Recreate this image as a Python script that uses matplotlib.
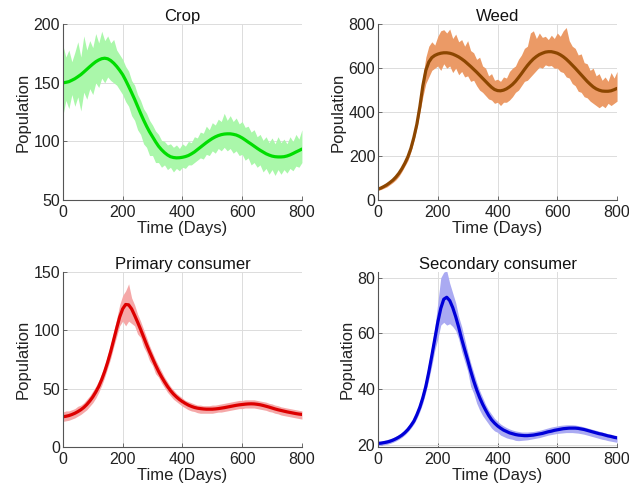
import numpy as np
import matplotlib
matplotlib.use("Agg")
import matplotlib.pyplot as plt

plt.rcParams['font.family'] = ['Liberation Sans', 'DejaVu Sans']

# time grid (days), shared by mean curves and bands
t = np.arange(0, 801, 10)

# ---- Crop ----
crop_mean = [150, 150.4, 151, 152.2, 153.5, 155.2, 157, 159.2, 161.5, 163.8, 166, 168, 169.5,
             170.6, 171, 170.5, 169, 166.8, 164, 160.7, 157, 152.2, 147, 141.6, 136, 130, 124,
             118.3, 113, 108.2, 104, 99.8, 96, 93, 90.5, 88.5, 87, 86.3, 86, 86.1, 86.5, 87.1,
             88, 89.4, 91, 93, 95, 97, 99, 100.8, 102.5, 103.9, 105, 105.8, 106.3, 106.5, 106.5,
             106.1, 105.5, 104.4, 103, 101.3, 99.5, 97.8, 96, 94.2, 92.5, 91, 89.5, 88.4, 87.5,
             87, 86.8, 86.8, 87, 87.6, 88.5, 89.7, 91, 92.2, 93.5]
crop_upper = [182, 172, 178, 168, 176, 185, 172, 190, 178, 186, 180, 192, 184, 194, 186, 190,
              184, 187, 178, 174, 170, 164, 160, 152, 148, 140, 135, 128, 124, 118, 114, 109,
              106, 101, 100, 97, 98, 95, 97, 94, 98, 96, 100, 99, 104, 103, 108, 107, 113, 110,
              116, 114, 119, 117, 124, 118, 122, 117, 120, 115, 117, 112, 113, 108, 110, 104,
              106, 101, 104, 99, 103, 98, 104, 99, 102, 98, 104, 100, 106, 102, 110]
crop_lower = [122, 135, 128, 140, 130, 138, 126, 142, 136, 145, 140, 150, 146, 154, 150, 155,
              152, 150, 148, 144, 140, 134, 130, 122, 118, 110, 106, 98, 95, 88, 88, 82, 82,
              78, 80, 76, 78, 74, 77, 75, 78, 77, 80, 80, 82, 84, 86, 85, 89, 88, 92, 90, 94,
              92, 95, 92, 94, 90, 92, 88, 89, 84, 86, 80, 82, 78, 80, 74, 77, 72, 76, 71, 76,
              72, 76, 73, 77, 75, 79, 78, 82]

# ---- Weed ----
weed_mean = [50, 55, 62, 70, 80, 91, 105, 122, 143, 168, 197, 235, 285, 345, 425, 520, 590,
             628, 648, 658, 664, 668, 670, 670, 668, 664, 658, 651, 642, 632, 620, 608, 595,
             582, 568, 554, 540, 526, 513, 503, 498, 497, 500, 506, 515, 526, 540, 557, 575,
             594, 612, 628, 642, 653, 662, 668, 673, 675, 675, 672, 668, 661, 652, 641, 628,
             614, 600, 585, 570, 555, 540, 527, 515, 506, 500, 496, 495, 495, 497, 502, 508]
weed_upper = [58, 62, 70, 78, 88, 100, 113, 130, 155, 182, 212, 255, 310, 375, 460, 560, 650,
              700, 720, 705, 745, 770, 775, 760, 778, 735, 755, 720, 730, 700, 725, 680, 670,
              640, 650, 610, 600, 565, 575, 545, 550, 540, 560, 555, 585, 600, 610, 640, 660,
              690, 700, 760, 770, 735, 760, 740, 745, 730, 750, 735, 760, 745, 770, 785, 725,
              700, 690, 660, 665, 625, 620, 590, 600, 565, 575, 545, 560, 540, 580, 555, 585]
weed_lower = [44, 48, 54, 60, 70, 80, 92, 108, 130, 155, 180, 220, 270, 330, 400, 470, 530,
              560, 590, 600, 610, 590, 620, 600, 610, 580, 600, 570, 585, 560, 565, 540, 545,
              520, 500, 490, 475, 460, 455, 440, 445, 430, 445, 445, 455, 470, 490, 500, 520,
              540, 545, 560, 575, 590, 605, 600, 615, 610, 612, 600, 600, 585, 580, 560, 555,
              530, 520, 495, 490, 470, 465, 450, 440, 430, 420, 430, 420, 440, 430, 440, 450]

# ---- Primary consumer ----
prim_mean = [26, 26.4, 27, 27.9, 29, 30.4, 32, 34, 36.5, 39.5, 43, 47.2, 52, 58, 65, 73, 82,
             92, 102, 111.5, 118.5, 122.3, 122, 118.5, 113, 107.2, 101, 94.5, 88, 81.8, 76,
             70.3, 65, 60.3, 56, 52, 48.5, 45.5, 43, 40.8, 39, 37.4, 36, 34.9, 34, 33.4, 33,
             32.7, 32.5, 32.5, 32.5, 32.7, 33, 33.4, 33.8, 34.3, 34.8, 35.3, 35.8, 36.2, 36.5,
             36.8, 37, 37.1, 37, 36.7, 36.3, 35.7, 35, 34.3, 33.5, 32.7, 32, 31.4, 30.8, 30.2,
             29.7, 29.2, 28.7, 28.3, 28]
prim_upper = [30, 31, 31, 32, 33, 35, 36, 38, 41, 44, 48, 52, 57, 63, 70, 79, 88, 99, 110,
              122, 130, 134, 140, 128, 122, 114, 108, 101, 94, 87, 81, 75, 70, 65, 60, 56, 52,
              49, 46, 44, 42, 40, 39, 38, 37, 36, 36, 35.5, 35.5, 35.5, 36, 36, 36.5, 37, 37.5,
              38, 38.5, 39, 39.5, 40, 40, 40.5, 40.5, 40.5, 40.5, 40, 39.5, 39, 38.5, 37.5, 37,
              36, 35.5, 34.5, 34, 33.5, 33, 32.5, 32, 31.5, 31]
prim_lower = [22, 22.5, 23, 24, 25, 26.5, 28, 30, 32, 35, 38, 42, 47, 53, 60, 68, 76, 86, 95,
              104, 108, 104, 108, 106, 104, 97, 94, 86, 81, 74, 70, 63, 60, 55, 51, 47, 44, 41,
              39, 37, 35, 33.5, 32, 31, 30.5, 29.5, 29, 29, 29, 29, 29, 29.5, 30, 30, 30.5, 31,
              31.5, 32, 32.5, 33, 33, 33.5, 33.5, 33.5, 33.5, 33, 32.5, 32, 31.5, 30.5, 30, 29,
              28.5, 27.5, 27, 26.5, 26, 25.5, 25, 24.5, 24]

# ---- Secondary consumer ----
sec_mean = [20.5, 20.6, 20.8, 21, 21.3, 21.7, 22.2, 22.8, 23.5, 24.4, 25.5, 26.9, 28.5, 30.8,
            33.5, 36.9, 41, 46.2, 52, 58, 64, 69, 72.3, 73, 71.8, 69.3, 66, 62.2, 58, 54.2,
            50.5, 46.6, 43, 39.8, 37, 34.6, 32.5, 30.6, 29, 27.8, 26.8, 26, 25.3, 24.8, 24.3,
            24, 23.7, 23.5, 23.4, 23.3, 23.3, 23.4, 23.5, 23.7, 23.9, 24.1, 24.4, 24.7, 24.9,
            25.2, 25.4, 25.6, 25.8, 25.9, 26, 26, 26, 25.9, 25.7, 25.5, 25.2, 24.9, 24.6, 24.3,
            24, 23.8, 23.5, 23.2, 23, 22.7, 22.5]
sec_upper = [21.3, 21.4, 21.6, 21.9, 22.2, 22.6, 23.1, 23.7, 24.5, 25.5, 26.7, 28.2, 30, 32.5,
             35.5, 39.5, 44, 49.5, 55.5, 62, 71, 80, 82, 82.5, 78, 74.5, 71, 66, 62.5, 58, 53.5,
             49.5, 46, 42.5, 39.5, 37, 34.5, 32.5, 31, 29.5, 28.5, 27.5, 26.8, 26.2, 25.7, 25.3,
             25, 24.8, 24.6, 24.6, 24.6, 24.7, 24.8, 25, 25.2, 25.5, 25.8, 26.1, 26.4, 26.6,
             26.8, 27, 27.1, 27.2, 27.2, 27.2, 27.1, 26.9, 26.7, 26.4, 26.1, 25.8, 25.5, 25.2,
             24.9, 24.6, 24.3, 24, 23.8, 23.5, 23.3]
sec_lower = [19.7, 19.8, 20, 20.2, 20.5, 20.9, 21.4, 22, 22.7, 23.6, 24.7, 26, 27.5, 29.5, 32,
             35, 39, 43.5, 48.5, 54, 58, 63, 64, 63, 63.5, 62.5, 61, 58, 53.5, 50, 46.5, 41,
             38.5, 35, 32.5, 30.5, 29, 27.5, 26, 25, 24.5, 23.5, 23, 22.5, 22.2, 22, 21.6, 21.5,
             21.6, 21.7, 21.8, 22, 22.2, 22.4, 22.6, 22.9, 23.2, 23.5, 23.7, 23.9, 24.1, 24.2,
             24.3, 24.4, 24.4, 24.4, 24.3, 24.2, 24, 23.8, 23.5, 23.2, 22.9, 22.6, 22.3, 22,
             21.8, 21.5, 21.3, 21.1, 20.9]

panels = [
    ("Crop", crop_mean, crop_upper, crop_lower, "#00dd00", "#aaf7aa", (50, 200), [50, 100, 150, 200]),
    ("Weed", weed_mean, weed_upper, weed_lower, "#8c4600", "#eb9a66", (0, 800), [0, 200, 400, 600, 800]),
    ("Primary consumer", prim_mean, prim_upper, prim_lower, "#dd0000", "#f5a8a8", (0, 150), [0, 50, 100, 150]),
    ("Secondary consumer", sec_mean, sec_upper, sec_lower, "#0000d8", "#aaaaf2", (19.2, 82), [20, 40, 60, 80]),
]

fig = plt.figure(figsize=(6.29, 4.94), dpi=100)
positions = [
    [0.100, 0.595, 0.380, 0.356],
    [0.601, 0.595, 0.380, 0.356],
    [0.100, 0.095, 0.380, 0.354],
    [0.601, 0.095, 0.380, 0.354],
]

for pos, (title, mean, upper, lower, lc, fc, ylim, yticks) in zip(positions, panels):
    ax = fig.add_axes(pos)
    ax.fill_between(t, lower, upper, color=fc, linewidth=0, zorder=1)
    ax.plot(t, mean, color=lc, linewidth=2.3, solid_joinstyle="round",
            solid_capstyle="round", zorder=2)
    ax.set_xlim(0, 800)
    ax.set_ylim(*ylim)
    ax.set_xticks([0, 200, 400, 600, 800])
    ax.set_yticks(yticks)
    ax.grid(True, color="#dcdcdc", linewidth=0.7)
    ax.set_axisbelow(True)
    for s in ["top", "right"]:
        ax.spines[s].set_visible(False)
    for s in ["left", "bottom"]:
        ax.spines[s].set_color("#555555")
        ax.spines[s].set_linewidth(0.8)
    ax.tick_params(direction="in", length=3, width=0.6, colors="#555555",
                   labelcolor="#222222", labelsize=11.5)
    ax.tick_params(axis="x", pad=3.5)
    ax.tick_params(axis="y", pad=2)
    ax.set_title(title, fontsize=12, pad=2, color="#111111")
    ax.set_xlabel("Time (Days)", fontsize=12, labelpad=0.5, color="#222222")
    ax.set_ylabel("Population", fontsize=12, labelpad=2, color="#222222")

fig.savefig("out.png", dpi=100)
